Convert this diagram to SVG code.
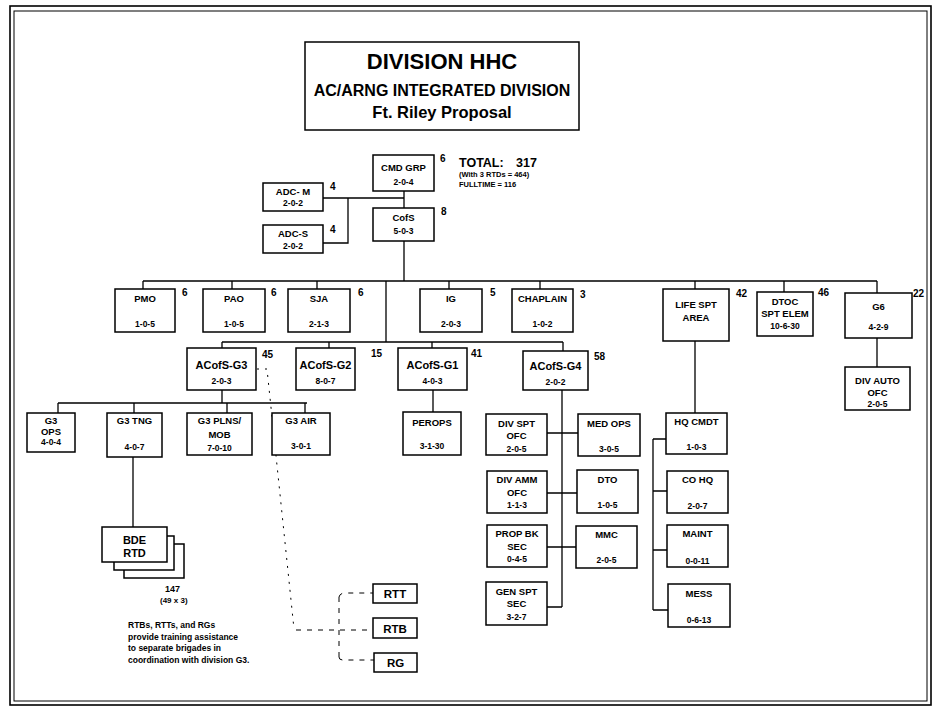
<svg xmlns="http://www.w3.org/2000/svg" width="935" height="708" viewBox="0 0 935 708">
<style>
.bg{fill:#fff}
.fr{fill:none;stroke:#000;stroke-width:1.6}
.fr2{fill:none;stroke:#000;stroke-width:1}
.box{fill:#fff;stroke:#000;stroke-width:1.5}
.ln{fill:none;stroke:#000;stroke-width:1.3}
.dl{fill:none;stroke:#000;stroke-width:1;stroke-dasharray:2 6}
.dh{fill:none;stroke:#000;stroke-width:1;stroke-dasharray:5 6}
text{font-family:"Liberation Sans",Arial,sans-serif;font-weight:bold;fill:#000}
.t{font-size:9.5px;text-anchor:middle}
.n{font-size:8.5px;text-anchor:middle}
.a{font-size:11px;text-anchor:middle}
.c{font-size:10px}
.r{font-size:11.5px;text-anchor:middle}
.s{font-size:7.5px}
.note{font-size:8.5px}
</style>
<rect class="bg" width="935" height="708"/>
<rect class="fr" x="10" y="6" width="921" height="699"/>
<rect class="fr2" x="14" y="11" width="913" height="690"/>

<g id="title">
<rect class="box" x="305" y="42" width="274" height="88"/>
<text x="442" y="69" style="font-size:22px;text-anchor:middle">DIVISION HHC</text>
<text x="442" y="96" style="font-size:16px;text-anchor:middle">AC/ARNG INTEGRATED DIVISION</text>
<text x="442" y="118" style="font-size:16.5px;text-anchor:middle">Ft. Riley Proposal</text>
</g>

<g id="connectors">
<path class="ln" d="M404 191V208M404 241V281M323 198H404M348 198V243H323"/>
<path class="ln" d="M143 281H877M143 281V289M232 281V289M317 281V289M449 281V289M540 281V289M695 281V289M784 281V292M877 281V293"/>
<path class="ln" d="M386 281V342M222 342H563M222 342V348M329 342V348M432 342V348M563 342V351"/>
<path class="ln" d="M877 338V367"/>
<path class="ln" d="M222 390V403M58 403H307M58 403V413M134 403V413M227 403V413M305 403V413"/>
<path class="ln" d="M133 457V527"/>
<path class="ln" d="M433 390V412"/>
<path class="ln" d="M562 390V607M547 433H578M547 493H577M547 547H576M547 607H562"/>
<path class="ln" d="M695 341V413M653 439V610M653 439H666M653 491H667M653 550H667M653 610H668"/>
<path class="dl" d="M257 369H267L294 629"/>
<path class="dh" d="M296 630H373M339 597V657M339 597Q340 593 345 593H373M339 657Q339 660 343 660H374"/>
</g>

<g id="cmdgrp"><rect class="box" x="373" y="155" width="61" height="36"/><text class="t" x="403.5" y="171">CMD GRP</text><text class="n" x="403.5" y="185">2-0-4</text><text class="c" x="440" y="162">6</text></g>
<g id="total"><text x="459" y="167" style="font-size:12.5px">TOTAL:</text><text x="516" y="167" style="font-size:12.5px">317</text><text class="s" x="459" y="177">(With 3 RTDs = 464)</text><text class="s" x="459" y="187">FULLTIME = 116</text></g>
<g id="adcm"><rect class="box" x="263" y="183" width="60" height="28"/><text class="t" x="293" y="195">ADC- M</text><text class="n" x="293" y="206">2-0-2</text><text class="c" x="330" y="190">4</text></g>
<g id="adcs"><rect class="box" x="263" y="225" width="60" height="28"/><text class="t" x="293" y="237">ADC-S</text><text class="n" x="293" y="249">2-0-2</text><text class="c" x="330" y="233">4</text></g>
<g id="cofs"><rect class="box" x="373" y="208" width="61" height="33"/><text class="t" x="403.5" y="221">CofS</text><text class="n" x="403.5" y="234">5-0-3</text><text class="c" x="441" y="215">8</text></g>

<g id="pmo"><rect class="box" x="115" y="289" width="60" height="43"/><text class="t" x="145" y="302">PMO</text><text class="n" x="145" y="327">1-0-5</text><text class="c" x="182" y="296">6</text></g>
<g id="pao"><rect class="box" x="203" y="289" width="62" height="43"/><text class="t" x="234" y="302">PAO</text><text class="n" x="234" y="327">1-0-5</text><text class="c" x="271" y="296">6</text></g>
<g id="sja"><rect class="box" x="288" y="289" width="62" height="43"/><text class="t" x="319" y="302">SJA</text><text class="n" x="319" y="327">2-1-3</text><text class="c" x="358" y="296">6</text></g>
<g id="ig"><rect class="box" x="420" y="289" width="62" height="43"/><text class="t" x="451" y="302">IG</text><text class="n" x="451" y="327">2-0-3</text><text class="c" x="490" y="296">5</text></g>
<g id="chaplain"><rect class="box" x="512" y="289" width="61" height="43"/><text class="t" x="542.5" y="302">CHAPLAIN</text><text class="n" x="542.5" y="327">1-0-2</text><text class="c" x="580" y="298">3</text></g>
<g id="lifespt"><rect class="box" x="663" y="289" width="66" height="52"/><text class="t" x="696" y="308">LIFE  SPT</text><text class="t" x="696" y="321">AREA</text><text class="c" x="736" y="297">42</text></g>
<g id="dtoc"><rect class="box" x="757" y="292" width="56" height="44"/><text class="t" x="785" y="305">DTOC</text><text class="t" x="785" y="317">SPT ELEM</text><text class="n" x="785" y="329">10-6-30</text><text class="c" x="818" y="296">46</text></g>
<g id="g6"><rect class="box" x="845" y="293" width="67" height="45"/><text class="t" x="878.5" y="310">G6</text><text class="n" x="878.5" y="330">4-2-9</text><text class="c" x="913" y="297">22</text></g>
<g id="divauto"><rect class="box" x="845" y="367" width="65" height="43"/><text class="t" x="877.5" y="384">DIV AUTO</text><text class="t" x="877.5" y="396">OFC</text><text class="n" x="877.5" y="407">2-0-5</text></g>

<g id="g3"><rect class="box" x="187" y="348" width="69" height="42"/><text class="a" x="221.5" y="369">ACofS-G3</text><text class="n" x="221.5" y="384">2-0-3</text><text class="c" x="262" y="358">45</text></g>
<g id="g2"><rect class="box" x="296" y="348" width="59" height="42"/><text class="a" x="325.5" y="369">ACofS-G2</text><text class="n" x="325.5" y="384">8-0-7</text><text class="c" x="371" y="357">15</text></g>
<g id="g1"><rect class="box" x="398" y="348" width="69" height="42"/><text class="a" x="432.5" y="369">ACofS-G1</text><text class="n" x="432.5" y="384">4-0-3</text><text class="c" x="471" y="357">41</text></g>
<g id="g4"><rect class="box" x="523" y="351" width="65" height="39"/><text class="a" x="555.5" y="370">ACofS-G4</text><text class="n" x="555.5" y="385">2-0-2</text><text class="c" x="594" y="360">58</text></g>

<g id="g3ops"><rect class="box" x="27" y="413" width="48" height="39"/><text class="t" x="51" y="424">G3</text><text class="t" x="51" y="435">OPS</text><text class="n" x="51" y="445">4-0-4</text></g>
<g id="g3tng"><rect class="box" x="107" y="413" width="55" height="44"/><text class="t" x="134.5" y="424">G3 TNG</text><text class="n" x="134.5" y="450">4-0-7</text></g>
<g id="g3plns"><rect class="box" x="187" y="413" width="65" height="42"/><text class="t" x="219.5" y="424">G3 PLNS/</text><text class="t" x="219.5" y="438">MOB</text><text class="n" x="219.5" y="451">7-0-10</text></g>
<g id="g3air"><rect class="box" x="272" y="413" width="58" height="42"/><text class="t" x="301" y="424">G3 AIR</text><text class="n" x="301" y="449">3-0-1</text></g>

<g id="bderTD">
<rect class="box" x="124" y="544" width="60" height="34"/>
<rect class="box" x="114" y="536" width="60" height="34"/>
<rect class="box" x="102" y="527" width="65" height="35"/>
<text class="a" x="134.5" y="544">BDE</text><text class="a" x="134.5" y="557">RTD</text>
<text class="c" x="165" y="592" style="font-size:9px">147</text>
<text x="160" y="603" style="font-size:8px">(49 x 3)</text>
</g>

<g id="note">
<text class="note" x="128" y="628">RTBs, RTTs, and RGs</text>
<text class="note" x="128" y="639.5">provide training assistance</text>
<text class="note" x="128" y="651">to separate brigades in</text>
<text class="note" x="128" y="662.5">coordination with division G3.</text>
</g>

<g id="rtt"><rect class="box" x="373" y="584" width="44" height="19"/><text class="r" x="395" y="598">RTT</text></g>
<g id="rtb"><rect class="box" x="373" y="618" width="44" height="20"/><text class="r" x="395" y="632.5">RTB</text></g>
<g id="rg"><rect class="box" x="374" y="653" width="43" height="19"/><text class="r" x="395.5" y="667">RG</text></g>

<g id="perops"><rect class="box" x="403" y="412" width="58" height="43"/><text class="t" x="432" y="426">PEROPS</text><text class="n" x="432" y="449">3-1-30</text></g>

<g id="divspt"><rect class="box" x="486" y="414" width="61" height="41"/><text class="t" x="516.5" y="427">DIV SPT</text><text class="t" x="516.5" y="439">OFC</text><text class="n" x="516.5" y="452">2-0-5</text></g>
<g id="medops"><rect class="box" x="578" y="414" width="62" height="42"/><text class="t" x="609" y="427">MED OPS</text><text class="n" x="609" y="452">3-0-5</text></g>
<g id="divamm"><rect class="box" x="487" y="471" width="60" height="42"/><text class="t" x="517" y="483">DIV AMM</text><text class="t" x="517" y="496">OFC</text><text class="n" x="517" y="508">1-1-3</text></g>
<g id="dto"><rect class="box" x="577" y="470" width="61" height="43"/><text class="t" x="607.5" y="483">DTO</text><text class="n" x="607.5" y="508">1-0-5</text></g>
<g id="propbk"><rect class="box" x="487" y="525" width="60" height="42"/><text class="t" x="517" y="537">PROP BK</text><text class="t" x="517" y="550">SEC</text><text class="n" x="517" y="562">0-4-5</text></g>
<g id="mmc"><rect class="box" x="576" y="526" width="61" height="42"/><text class="t" x="606.5" y="538">MMC</text><text class="n" x="606.5" y="563">2-0-5</text></g>
<g id="genspt"><rect class="box" x="486" y="582" width="61" height="43"/><text class="t" x="516.5" y="595">GEN SPT</text><text class="t" x="516.5" y="607">SEC</text><text class="n" x="516.5" y="620">3-2-7</text></g>

<g id="hqcmdt"><rect class="box" x="666" y="413" width="61" height="41"/><text class="t" x="696.5" y="425">HQ CMDT</text><text class="n" x="696.5" y="450">1-0-3</text></g>
<g id="cohq"><rect class="box" x="667" y="471" width="61" height="42"/><text class="t" x="697.5" y="483">CO HQ</text><text class="n" x="697.5" y="509">2-0-7</text></g>
<g id="maint"><rect class="box" x="667" y="525" width="61" height="42"/><text class="t" x="697.5" y="537">MAINT</text><text class="n" x="697.5" y="564">0-0-11</text></g>
<g id="mess"><rect class="box" x="668" y="584" width="62" height="43"/><text class="t" x="699" y="597">MESS</text><text class="n" x="699" y="623">0-6-13</text></g>
</svg>
